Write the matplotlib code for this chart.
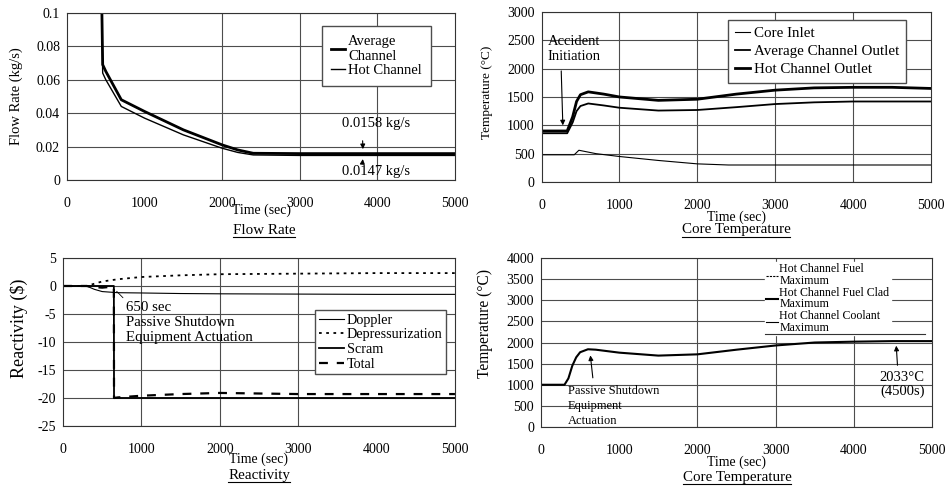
import matplotlib
matplotlib.use("Agg")
import matplotlib.pyplot as plt
from matplotlib.lines import Line2D

plt.rcParams['font.family'] = ['Liberation Serif', 'DejaVu Serif']
plt.rcParams['font.size'] = 10
plt.rcParams['axes.unicode_minus'] = False

# --- Flow rate (kg/s)
flow_t = [450, 460, 500, 700, 1000, 1500, 2000, 2200, 2400, 3000, 4000, 5000]
flow_avg = [0.1, 0.069, 0.065, 0.048, 0.041, 0.030, 0.021, 0.018, 0.0160, 0.0158, 0.0158, 0.0158]
flow_hot = [0.1, 0.064, 0.060, 0.044, 0.037, 0.027, 0.019, 0.0165, 0.0150, 0.0147, 0.0147, 0.0147]

# --- Core temperature (C)
ct_t = [0, 330, 400, 450, 500, 600, 800, 1000, 1500, 2000, 2500, 3000, 3500, 4000, 4500, 5000]
ct_avg_out = [860, 860, 1050, 1250, 1340, 1385, 1350, 1310, 1260, 1270, 1320, 1375, 1405, 1420, 1420, 1420]
ct_hot_out = [900, 900, 1150, 1420, 1540, 1590, 1550, 1500, 1440, 1460, 1550, 1620, 1660, 1670, 1670, 1650]
inlet_t = [0, 420, 480, 700, 1000, 1500, 2000, 2400, 3000, 4000, 5000]
inlet = [480, 480, 560, 500, 450, 380, 320, 300, 300, 300, 300]

# --- Reactivity ($)
r_t = [0, 300, 400, 500, 649, 651, 700, 1000, 1500, 2000, 3000, 4000, 5000]
doppler = [0, 0, -0.6, -1.0, -1.15, -1.15, -1.2, -1.25, -1.35, -1.4, -1.45, -1.5, -1.5]
depress = [0, 0, 0.4, 0.8, 1.1, 1.1, 1.2, 1.6, 1.9, 2.1, 2.2, 2.3, 2.3]
scram = [0, 0, 0, 0, 0, -20, -20, -20, -20, -20, -20, -20, -20]
total = [0, 0, -0.2, -0.3, -0.1, -20.0, -19.9, -19.6, -19.3, -19.1, -19.3, -19.3, -19.3]

# --- Hot channel max temperature (C)
hm_t = [0, 300, 350, 400, 450, 500, 600, 700, 1000, 1500, 2000, 2500, 3000, 3500, 4000, 4500, 5000]
fuel_max = [1000, 1000, 1150, 1450, 1650, 1770, 1840, 1830, 1760, 1690, 1720, 1830, 1930, 2000, 2020, 2033, 2033]

fig = plt.figure(figsize=(9.5, 4.86), dpi=100)
ax1 = fig.add_axes([0.0705, 0.6296, 0.4085, 0.344])
ax2 = fig.add_axes([0.570, 0.6255, 0.410, 0.350])
ax3 = fig.add_axes([0.0663, 0.1235, 0.4126, 0.3457])
ax4 = fig.add_axes([0.5695, 0.1214, 0.4116, 0.3477])

gridc = '0.3'


def style(ax, vlines, xlab_y):
    ax.set_xlim(0, 5000)
    ax.set_xticks([0, 1000, 2000, 3000, 4000, 5000])
    ax.tick_params(axis='x', length=0, pad=12, labelsize=10)
    ax.tick_params(axis='y', length=0, pad=5, labelsize=10)
    ax.yaxis.grid(True, color=gridc, lw=0.8)
    for v in vlines:
        ax.axvline(v, color=gridc, lw=0.8, zorder=1)
    for s in ax.spines.values():
        s.set_linewidth(0.8)
        s.set_color('0.2')
    ax.set_xlabel('Time (sec)', fontsize=10)
    ax.xaxis.set_label_coords(0.5, xlab_y)


box = dict(loc='upper left', frameon=True, fancybox=False, framealpha=1, borderaxespad=0)

# Flow rate
style(ax1, [2000, 3000, 4000], -0.14)
ax1.plot(flow_t, flow_avg, color='k', lw=2.0, label='Average\nChannel')
ax1.plot(flow_t, flow_hot, color='k', lw=1.0, label='Hot Channel')
ax1.set_ylim(0, 0.1)
ax1.set_yticks([0, 0.02, 0.04, 0.06, 0.08, 0.1])
ax1.set_yticklabels(['0', '0.02', '0.04', '0.06', '0.08', '0.1'])
ax1.set_ylabel('Flow Rate (kg/s)', fontsize=10.5)
ax1.yaxis.set_label_coords(-0.113, 0.5)
ax1.legend(bbox_to_anchor=(0.657, 0.922), edgecolor='0.3', handlelength=1.0,
           handletextpad=0.2, labelspacing=0.1, borderpad=0.6, fontsize=10.5, **box)
ax1.annotate('0.0158 kg/s', xy=(3814, 0.0168), xytext=(3980, 0.034), ha='center', va='center',
             fontsize=10.5,
             arrowprops=dict(arrowstyle='-|>', color='k', lw=0.8, mutation_scale=7,
                             relpos=(0.3, 0.0), shrinkA=6))
ax1.annotate('0.0147 kg/s', xy=(3814, 0.0142), xytext=(3980, 0.005), ha='center', va='center',
             fontsize=10.5,
             arrowprops=dict(arrowstyle='-|>', color='k', lw=0.8, mutation_scale=7,
                             relpos=(0.3, 1.0), shrinkA=1))

# Core temperature
style(ax2, [1000, 2000, 3000, 4000], -0.165)
ax2.plot(inlet_t, inlet, color='k', lw=0.8, label='Core Inlet')
ax2.plot(ct_t, ct_avg_out, color='k', lw=1.3, label='Average Channel Outlet')
ax2.plot(ct_t, ct_hot_out, color='k', lw=2.0, label='Hot Channel Outlet')
ax2.set_ylim(0, 3000)
ax2.set_yticks(range(0, 3001, 500))
ax2.set_ylabel('Temperature (\u00b0C)', fontsize=9.5)
ax2.yaxis.set_label_coords(-0.125, 0.53)
ax2.legend(bbox_to_anchor=(0.479, 0.953), edgecolor='0.3', handlelength=1.0,
           handletextpad=0.3, labelspacing=0.3, borderpad=0.45, borderaxespad=0,
           fontsize=10.8, loc='upper left', frameon=True, fancybox=False, framealpha=1)
ax2.annotate('Accident\nInitiation', xy=(275, 950), xytext=(80, 2600), ha='left', va='top',
             fontsize=10.5, linespacing=1.2,
             arrowprops=dict(arrowstyle='-|>', color='k', lw=0.8, mutation_scale=7,
                             relpos=(0.25, 0.0), shrinkA=4))

# Reactivity
style(ax3, [1000, 2000, 3000], -0.16)
ax3.plot(r_t, doppler, color='k', lw=0.8, label='Doppler')
ax3.plot(r_t, depress, color='k', lw=1.3, ls=(0, (1.5, 2.5)), label='Depressurization')
ax3.plot(r_t, scram, color='k', lw=1.3, label='Scram')
ax3.plot(r_t, total, color='k', lw=1.6, ls=(0, (4, 4)), label='Total')
ax3.set_ylim(-25, 5)
ax3.set_yticks(range(-25, 6, 5))
ax3.set_ylabel('Reactivity ($)', fontsize=13)
ax3.yaxis.set_label_coords(-0.089, 0.583)
ax3.legend(bbox_to_anchor=(0.643, 0.69), edgecolor='0.3', handlelength=1.8,
           handletextpad=0.2, labelspacing=0.12, borderpad=0.25, fontsize=10.2, **box)
ax3.annotate('650 sec\nPassive Shutdown\nEquipment Actuation', xy=(660, -0.6), xytext=(800, -2.6),
             ha='left', va='top', fontsize=10.7, linespacing=1.2,
             arrowprops=dict(arrowstyle='-', color='k', lw=0.6, relpos=(0.0, 1.0), shrinkA=0))

# Hot channel maximum temperature
style(ax4, [2000, 3000, 4000], -0.17)
ax4.plot(hm_t, fuel_max, color='k', lw=1.5)
handles = [Line2D([], [], color='k', lw=0.8, ls=(0, (2, 1))),
           Line2D([], [], color='k', lw=1.5),
           Line2D([], [], color='k', lw=0.8)]
leg = ax4.legend(handles, ['Hot Channel Fuel\nMaximum', 'Hot Channel Fuel Clad\nMaximum',
                           'Hot Channel Coolant\nMaximum'],
                 bbox_to_anchor=(0.573, 0.975), edgecolor='white', handlelength=1.0,
                 handletextpad=0.1, labelspacing=-0.02, borderpad=0.1, fontsize=8.6, **box)
for t in leg.get_texts():
    t.set_linespacing(0.95)
ax4.plot([0.573, 0.982], [0.55, 0.55], transform=ax4.transAxes, color='0.2', lw=0.8,
         zorder=6)
ax4.set_ylim(0, 4000)
ax4.set_yticks(range(0, 4001, 500))
ax4.set_ylabel('Temperature (\u00b0C)', fontsize=11.2)
ax4.yaxis.set_label_coords(-0.123, 0.61)
ax4.annotate('Passive Shutdown\nEquipment\nActuation', xy=(627, 1760), xytext=(345, 1000),
             ha='left', va='top', fontsize=9, linespacing=1.35,
             arrowprops=dict(arrowstyle='-|>', color='k', lw=0.8, mutation_scale=7,
                             relpos=(0.28, 1.0), shrinkA=3))
ax4.annotate('2033\u00b0C\n(4500s)', xy=(4540, 1990), xytext=(4620, 1330), ha='center', va='top',
             fontsize=10.5, linespacing=1.1,
             arrowprops=dict(arrowstyle='-|>', color='k', lw=0.8, mutation_scale=7,
                             relpos=(0.4, 1.0), shrinkA=2))

# underlined panel captions
captions = [('Flow Rate', 264, 230), ('Core Temperature', 736, 230),
            ('Reactivity', 259, 475), ('Core Temperature', 737, 477)]
fig.canvas.draw()
r = fig.canvas.get_renderer()
for txt, px, py in captions:
    t = fig.text(px / 950, 1 - py / 486, txt, ha='center', va='center', fontsize=10.8)
    bb = t.get_window_extent(renderer=r)
    y0 = max(bb.y0 - 0.5, 1.5) / fig.bbox.height
    fig.add_artist(Line2D([bb.x0 / fig.bbox.width, bb.x1 / fig.bbox.width], [y0, y0],
                          color='k', lw=0.8))

fig.savefig('out.png', dpi=100)
